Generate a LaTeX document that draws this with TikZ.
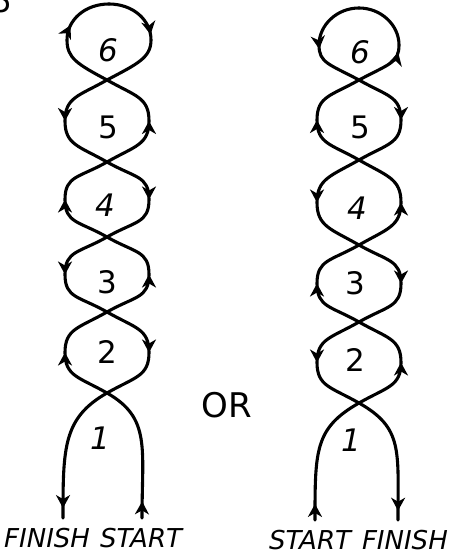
\documentclass[tikz,border=0pt]{standalone}
\usepackage{fontspec}
\setmainfont{DejaVu Sans}
\usetikzlibrary{arrows.meta,decorations.markings,calc}
\tikzset{
  strand/.style={line width=3.1pt, line cap=round},
  arrowside/.style={strand, postaction={decorate},
    decoration={markings, mark=at position #1 with {\arrow{Stealth[length=13pt,width=14pt,inset=4pt]}}}},
  arrowside/.default=0.5,
  digit/.style={font=\fontsize{31}{31}\selectfont, inner sep=0pt},
  lbl/.style={font=\fontsize{26}{26}\selectfont\itshape, inner sep=0pt},
  ortext/.style={font=\fontsize{34}{34}\selectfont, inner sep=0pt}
}
% one side of a loop: #1 from, #2 to, #3 = -1 left / 1 right, #4 = 1 up / -1 down
\newcommand\loopside[4]{(#1) .. controls +({(#3)*28},{(#4)*16}) and +(0,{(#4)*(-24)}) .. ($(#1)!0.5!(#2)+({(#3)*42},0)$) .. controls +(0,{(#4)*24}) and +({(#3)*28},{(#4)*(-16)}) .. (#2)}
\begin{document}
\begin{tikzpicture}[x=1pt,y=1pt]
\useasboundingbox (0,0) rectangle (451,554);
\clip (0,0) rectangle (451,554);
% clipped figure number at the corner
\node[digit, anchor=south east] (fig) at (12.5,541) {5};
% ---------- left chain ----------
\coordinate (Ls) at (142,36);
\coordinate (Lf) at (63,36);
\coordinate (L1) at (107,161);
\coordinate (L2) at (107,242);
\coordinate (L3) at (107,317);
\coordinate (L4) at (107,392);
\coordinate (L5) at (107,474);
\coordinate (Lt) at (109,550);
\coordinate (Ll) at (67,514);
\coordinate (Lr) at (151,514);
\draw[arrowside=0.12] (Ls) .. controls +(0,70) and +(44,-25) .. (L1);
\draw[arrowside] \loopside{L1}{L2}{-1}{1};
\draw[arrowside] \loopside{L2}{L3}{1}{1};
\draw[arrowside] \loopside{L3}{L4}{-1}{1};
\draw[arrowside] \loopside{L4}{L5}{1}{1};
\draw[arrowside=0.62] (L5) .. controls +(-30,16) and +(0,-18) .. (Ll) .. controls +(0,20) and +(-24,0) .. (Lt);
\draw[arrowside=0.45] (Lt) .. controls +(24,0) and +(0,20) .. (Lr) .. controls +(0,-18) and +(30,16) .. (L5);
\draw[arrowside] \loopside{L5}{L4}{-1}{-1};
\draw[arrowside] \loopside{L4}{L3}{1}{-1};
\draw[arrowside] \loopside{L3}{L2}{-1}{-1};
\draw[arrowside] \loopside{L2}{L1}{1}{-1};
\draw[arrowside=0.93] (L1) .. controls +(-44,-25) and +(0,70) .. (Lf);
\node[digit] (l6) at (108,504) {\itshape 6};
\node[digit] (l5) at (108,427) {5};
\node[digit] (l4) at (105,349) {\itshape 4};
\node[digit] (l3) at (107,272) {3};
\node[digit] (l2) at (107,202) {2};
\node[digit] (l1) at (100,116) {\itshape 1};
\node[lbl, anchor=west] (lfin) at (4,16) {FINISH};
\node[lbl, anchor=west] (lsta) at (100,16) {START};
% ---------- OR ----------
\node[ortext] (or) at (227,149) {OR};
% ---------- right chain ----------
\coordinate (Rs) at (315,34);
\coordinate (Rf) at (398,34);
\coordinate (R1) at (359,151);
\coordinate (R2) at (359,232);
\coordinate (R3) at (359,309);
\coordinate (R4) at (359,394);
\coordinate (R5) at (359,474);
\coordinate (Rt) at (359,546);
\coordinate (Rl) at (319,509);
\coordinate (Rr) at (399,509);
\draw[arrowside=0.12] (Rs) .. controls +(0,70) and +(-44,-25) .. (R1);
\draw[arrowside] \loopside{R1}{R2}{1}{1};
\draw[arrowside] \loopside{R2}{R3}{-1}{1};
\draw[arrowside] \loopside{R3}{R4}{1}{1};
\draw[arrowside] \loopside{R4}{R5}{-1}{1};
\draw[arrowside=0.42] (R5) .. controls +(30,16) and +(0,-18) .. (Rr) .. controls +(0,20) and +(22,0) .. (Rt);
\draw[arrowside=0.55] (Rt) .. controls +(-22,0) and +(0,20) .. (Rl) .. controls +(0,-18) and +(-30,16) .. (R5);
\draw[arrowside] \loopside{R5}{R4}{1}{-1};
\draw[arrowside] \loopside{R4}{R3}{-1}{-1};
\draw[arrowside] \loopside{R3}{R2}{1}{-1};
\draw[arrowside] \loopside{R2}{R1}{-1}{-1};
\draw[arrowside=0.93] (R1) .. controls +(44,-25) and +(0,70) .. (Rf);
\node[digit] (r6) at (360,502) {\itshape 6};
\node[digit] (r5) at (360,427) {5};
\node[digit] (r4) at (357,346) {\itshape 4};
\node[digit] (r3) at (355,271) {3};
\node[digit] (r2) at (355,194) {2};
\node[digit] (r1) at (351,114) {\itshape 1};
\node[lbl, anchor=west] (rsta) at (269,14) {START};
\node[lbl, anchor=east] (rfin) at (448,14) {FINISH};
\end{tikzpicture}
\end{document}
